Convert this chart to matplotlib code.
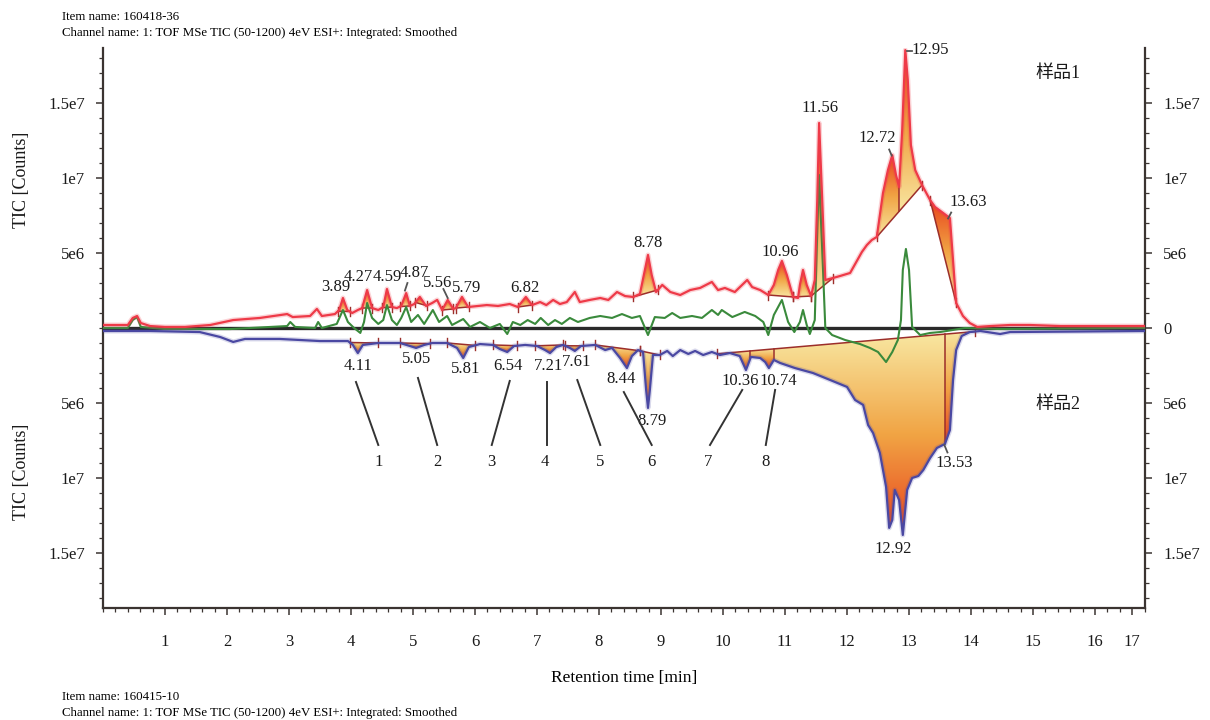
import numpy as np
import matplotlib
matplotlib.use('Agg')
import matplotlib.pyplot as plt
from matplotlib.colors import LinearSegmentedColormap
from matplotlib.patches import Polygon
from matplotlib.ticker import MultipleLocator

# ---- data: retention time [min] and TIC [1e6 counts] ----
# sample 1 (upper trace, red)
s1_time = [0.00, 0.40, 0.48, 0.55, 0.61, 0.76, 1.00, 1.32, 1.73, 2.10, 2.53, 2.97, 3.06,
           3.34, 3.45, 3.53, 3.74, 3.81, 3.87, 3.94, 4.02, 4.11, 4.18, 4.26, 4.34, 4.44,
           4.52, 4.58, 4.66, 4.74, 4.81, 4.89, 4.95, 5.02, 5.11, 5.21, 5.31, 5.39, 5.47,
           5.56, 5.65, 5.69, 5.79, 5.89, 6.05, 6.19, 6.37, 6.56, 6.69, 6.82, 6.92, 7.05,
           7.15, 7.26, 7.37, 7.48, 7.61, 7.69, 7.85, 8.02, 8.15, 8.29, 8.42, 8.55, 8.66,
           8.74, 8.79, 8.85, 8.92, 9.02, 9.15, 9.31, 9.47, 9.63, 9.82, 9.92, 10.03, 10.19,
           10.39, 10.47, 10.60, 10.73, 10.82, 10.89, 10.95, 11.03, 11.13, 11.21, 11.24,
           11.29, 11.35, 11.42, 11.48, 11.52, 11.55, 11.60, 11.65, 11.77, 11.89, 12.05,
           12.15, 12.24, 12.32, 12.40, 12.48, 12.53, 12.58, 12.66, 12.73, 12.79, 12.84,
           12.89, 12.94, 12.98, 13.03, 13.10, 13.21, 13.34, 13.42, 13.53, 13.66, 13.71,
           13.76, 13.87, 13.98, 14.10, 14.31, 14.63, 14.95, 15.44, 16.08, 16.81]
s1_tic = [0.20, 0.20, 0.67, 0.80, 0.33, 0.13, 0.07, 0.07, 0.20, 0.53, 0.67, 0.93, 0.73,
          0.80, 1.27, 0.80, 0.93, 1.20, 2.00, 1.20, 1.00, 1.20, 1.33, 2.53, 1.33, 1.20,
          1.40, 2.60, 1.40, 1.33, 1.47, 2.33, 1.47, 1.60, 2.07, 1.47, 1.67, 1.87, 1.20,
          1.87, 1.27, 1.33, 2.07, 1.40, 1.47, 1.53, 1.47, 1.60, 1.40, 2.07, 1.53, 1.73,
          1.53, 1.87, 1.60, 1.73, 2.40, 1.73, 1.87, 2.00, 1.87, 2.40, 2.13, 2.07, 2.27,
          3.87, 4.87, 3.53, 2.40, 2.87, 2.40, 2.20, 2.53, 2.67, 3.07, 2.53, 2.67, 2.40,
          3.20, 2.73, 2.53, 2.20, 2.87, 3.87, 4.47, 3.53, 2.07, 2.00, 2.87,
          3.87, 2.87, 2.13, 3.20, 8.53, 13.67, 8.53, 3.20, 3.33, 3.47, 3.67,
          4.40, 5.07, 5.53, 5.87, 6.07, 7.53, 9.00, 10.53, 11.53, 10.20, 9.40,
          13.20, 18.53, 16.53, 12.20, 10.53, 9.53, 8.53, 8.07, 7.73, 7.33, 4.53,
          1.67, 0.80, 0.33, 0.07, 0.13, 0.20, 0.20, 0.13, 0.13, 0.13]

# difference trace (green)
diff_time = [0.00, 0.40, 0.48, 0.55, 0.61, 1.00, 2.05, 2.97, 3.02, 3.10, 3.42, 3.47, 3.53,
             3.77, 3.87, 3.95, 4.05, 4.15, 4.21, 4.26, 4.34, 4.44, 4.52, 4.58, 4.66, 4.74,
             4.81, 4.89, 4.97, 5.08, 5.18, 5.32, 5.42, 5.55, 5.63, 5.81, 5.92, 6.08, 6.24,
             6.40, 6.52, 6.61, 6.73, 6.85, 6.97, 7.06, 7.18, 7.29, 7.40, 7.53, 7.66, 7.85,
             8.02, 8.21, 8.37, 8.53, 8.66, 8.79, 8.90, 9.06, 9.18, 9.31, 9.50, 9.66, 9.82,
             9.92, 9.98, 10.15, 10.35, 10.52, 10.65, 10.73, 10.82, 10.95, 11.05, 11.15,
             11.24, 11.29, 11.35, 11.40, 11.48, 11.52, 11.55, 11.60, 11.65, 11.76, 11.97,
             12.21, 12.37, 12.50, 12.63, 12.73, 12.82, 12.87, 12.90, 12.95, 13.00, 13.05,
             13.18, 13.34, 13.50, 13.71, 13.90, 14.47, 16.81]
diff_tic = [0.00, 0.00, 0.53, 0.73, 0.07, -0.07, -0.07, 0.13, 0.40, 0.07, 0.00, 0.40, 0.00,
            0.27, 1.20, 0.40, 0.00, -0.33, 0.40, 1.67, 0.67, 0.27, 0.53, 1.53, 0.53, 0.20,
            0.67, 1.40, 0.40, 0.87, 0.27, 1.20, 0.40, 0.80, 0.20, 0.60, 0.07, 0.40, 0.00,
            0.27, -0.40, 0.40, 0.20, 0.53, 0.27, 0.67, 0.20, 0.53, 0.27, 0.67, 0.40, 0.67,
            0.80, 0.67, 0.93, 0.67, 0.80, -0.47, 0.73, 0.67, 1.00, 0.67, 0.80, 0.67, 1.20,
            0.87, 1.20, 0.73, 1.07, 0.80, 0.40, -0.47, 0.87, 1.87, 0.40, -0.27,
            0.40, 1.20, 0.20, -0.40, 0.53, 6.53, 10.20, 5.20, 0.00, -0.47, -0.80,
            -1.07, -1.33, -1.60, -2.27, -1.60, -0.80, 0.53, 3.87, 5.27, 3.87, 0.07,
            -0.47, -0.33, -0.27, -0.13, 0.00, -0.07, 0.00]

# sample 2 (lower trace, blue, drawn downwards)
s2_time = [0.00, 0.76, 1.56, 1.89, 2.10, 2.29, 2.85, 3.50, 3.95, 4.03, 4.11, 4.19, 4.44,
           4.79, 4.95, 5.05, 5.18, 5.31, 5.55, 5.71, 5.81, 5.90, 6.08, 6.29, 6.40, 6.52,
           6.63, 6.81, 7.00, 7.13, 7.21, 7.31, 7.42, 7.53, 7.61, 7.71, 7.94, 8.10, 8.21,
           8.34, 8.45, 8.53, 8.63, 8.71, 8.76, 8.79, 8.82, 8.87, 8.98, 9.10, 9.19, 9.31,
           9.44, 9.55, 9.68, 9.82, 9.95, 10.11, 10.27, 10.37, 10.45, 10.60, 10.68, 10.74,
           10.82, 10.92, 11.16, 11.45, 11.73, 12.00, 12.13, 12.26, 12.34, 12.42, 12.53,
           12.63, 12.68, 12.73, 12.77, 12.84, 12.90, 12.97, 13.05, 13.15, 13.23, 13.34,
           13.45, 13.58, 13.66, 13.71, 13.76, 13.85, 13.98, 14.15, 14.47, 14.63, 16.81]
s2_tic = [-0.20, -0.20, -0.27, -0.60, -0.93, -0.73, -0.73, -0.87, -0.87, -1.13, -1.67, -1.13,
          -1.00, -1.00, -1.20, -1.33, -1.13, -1.00, -1.00, -1.33, -2.00, -1.27, -1.07, -1.13,
          -1.40, -1.60, -1.20, -1.13, -1.20, -1.47, -1.67, -1.27, -1.13, -1.33, -1.53, -1.20,
          -1.13, -1.47, -1.33, -2.00, -2.67, -1.87, -1.47, -1.60, -4.13, -5.33, -4.13, -1.80,
          -1.80, -1.53, -1.87, -1.47, -1.73, -1.53, -1.80, -1.60, -1.80, -1.67, -1.87, -2.80,
          -1.93, -2.00, -2.27, -2.67, -2.13, -2.33, -2.67, -3.00, -3.47, -3.93, -4.80, -5.13,
          -6.47, -7.00, -8.33, -10.60, -13.33, -12.80, -10.80, -11.47, -13.80, -10.80, -10.00,
          -9.87, -9.47, -8.67, -8.00, -7.73, -6.80, -3.47, -1.47, -0.53, -0.27, -0.20, -0.40,
          -0.27, -0.20]

# integration windows (boundaries in min); one straight baseline per window
s1_windows = [[3.79, 3.98], [4.18, 4.34], [4.50, 4.66], [4.79, 4.95], [5.04, 5.22],
              [5.47, 5.65], [5.69, 5.90], [6.69, 6.92], [8.55, 8.95], [10.73, 11.13],
              [11.13, 11.42], [11.42, 11.77], [12.48, 12.84, 13.21], [13.34, 13.76]]
s2_windows = [[3.98, 4.44], [4.79, 5.27], [5.55, 6.00], [6.29, 6.68], [6.97, 7.42],
              [7.45, 7.74], [7.94, 8.66], [8.66, 8.98], [9.90, 10.44, 10.82, 13.58, 14.06]]

s1_labels = ['3.89', '4.27', '4.59', '4.87', '5.56', '5.79', '6.82', '8.78', '10.96',
             '11.56', '12.72', '12.95', '13.63']
s2_labels = ['4.11', '5.05', '5.81', '6.54', '7.21', '7.61', '8.44', '8.79', '10.36',
             '10.74', '12.92', '13.53']
compound_ids = ['1', '2', '3', '4', '5', '6', '7', '8']

x_ticks = list(range(1, 18))
y_tick_vals = [15, 10, 5, 0, -5, -10, -15]
y_tick_text = ['1.5e7', '1e7', '5e6', '0', '5e6', '1e7', '1.5e7']

# ---- layout (text positions in data units) ----
s1_label_xy = [(3.76, 2.73), (4.11, 3.40), (4.58, 3.40), (5.02, 3.67), (5.40, 3.00),
               (5.87, 2.67), (6.81, 2.67), (8.79, 5.67), (10.92, 5.07), (11.56, 14.67),
               (12.48, 12.67), (13.34, 18.53), (13.95, 8.40)]
s2_label_xy = [(4.11, -2.53), (5.05, -2.07), (5.85, -2.73), (6.53, -2.53), (7.18, -2.53),
               (7.63, -2.27), (8.35, -3.40), (8.85, -6.20), (10.27, -3.53), (10.89, -3.53),
               (12.74, -14.73), (13.73, -9.00)]
id_xy = [(4.45, -8.93), (5.40, -8.93), (6.26, -8.93), (7.13, -8.93), (8.02, -8.93),
         (8.85, -8.93), (9.76, -8.93), (10.68, -8.93)]
id_lines = [((4.08, -3.6), (4.44, -7.8)), ((5.08, -3.33), (5.39, -7.8)),
            ((6.56, -3.53), (6.27, -7.8)), ((7.16, -3.6), (7.16, -7.8)),
            ((7.65, -3.47), (8.02, -7.8)), ((8.40, -4.27), (8.85, -7.8)),
            ((10.31, -4.13), (9.79, -7.8)), ((10.84, -4.13), (10.69, -7.8))]

SERIF = 'Liberation Serif'
plt.rcParams['font.family'] = [SERIF, 'Noto Sans CJK SC', 'DejaVu Sans']

RED = '#ee3a48'
GREEN = '#3a8a3c'
BLUE = '#4a48a2'
BASE = '#9c2e2a'
AXC = '#3b3431'

peak_cmap = LinearSegmentedColormap.from_list('peak', ['#f8e6a0', '#f1a444', '#e8431d'])
grad = np.linspace(0, 1, 256).reshape(-1, 1)


def fill_windows(ax, t, v, windows, upper):
    t = np.asarray(t)
    v = np.asarray(v)
    for bounds in windows:
        t0, t1 = bounds[0], bounds[-1]
        b0, b1 = np.interp(t0, t, v), np.interp(t1, t, v)

        def base(x):
            return b0 + (b1 - b0) * (x - t0) / (t1 - t0)

        for a, b in zip(bounds[:-1], bounds[1:]):
            inside = (t > a) & (t < b)
            xs = np.concatenate([[a], t[inside], [b]])
            ys = np.concatenate([[np.interp(a, t, v)], v[inside], [np.interp(b, t, v)]])
            verts = list(zip(xs, ys)) + [(b, base(b)), (a, base(a))]
            patch = Polygon(verts, closed=True, facecolor='none', edgecolor='none')
            ax.add_patch(patch)
            lo = min(ys.min(), base(a), base(b))
            hi = max(ys.max(), base(a), base(b))
            img = grad if upper else grad[::-1]
            im = ax.imshow(img, cmap=peak_cmap, extent=(a, b, lo, hi), origin='lower',
                           aspect='auto', zorder=2, interpolation='bilinear')
            im.set_clip_path(patch)
            if a != t0:
                ax.plot([a, a], [base(a), np.interp(a, t, v)], color=BASE, lw=1.1, zorder=2.5)
        ax.plot([t0, t1], [b0, b1], color=BASE, lw=1.1, zorder=2.5)
        for x in (t0, t1):
            y = np.interp(x, t, v)
            ax.plot([x, x], [y - 0.3, y + 0.3], color=BASE, lw=1.0, zorder=2.5)


fig = plt.figure(figsize=(12.1, 7.2), dpi=100)
ax = fig.add_axes([103 / 1210, 1 - 608 / 720, 1042 / 1210, 560 / 720])

fill_windows(ax, s1_time, s1_tic, s1_windows, upper=True)
fill_windows(ax, s2_time, s2_tic, s2_windows, upper=False)

ax.axhline(0, color='#2a2a2a', lw=2.4, zorder=3)
ax.plot(diff_time, diff_tic, color=GREEN, lw=1.5, zorder=4)
# soft halo under the sample traces, as in the scanned original
ax.plot(s2_time, s2_tic, color=BLUE, lw=3.6, alpha=0.2, zorder=4)
ax.plot(s2_time, s2_tic, color=BLUE, lw=1.6, zorder=4)
ax.plot(s1_time, s1_tic, color=RED, lw=3.6, alpha=0.22, zorder=5)
ax.plot(s1_time, s1_tic, color=RED, lw=1.6, zorder=5)

for txt, (x, y) in zip(s1_labels + s2_labels, s1_label_xy + s2_label_xy):
    ax.text(x, y, txt, ha='center', va='center', fontsize=12, color='#1a1a1a', zorder=6)
for txt, (x, y) in zip(compound_ids, id_xy):
    ax.text(x, y, txt, ha='center', va='center', fontsize=12, color='#1a1a1a', zorder=6)
for (p0, p1) in id_lines:
    ax.plot([p0[0], p1[0]], [p0[1], p1[1]], color='#333333', lw=1.4, zorder=6)

# short leader marks next to some labels
for (p0, p1) in [((12.97, 18.5), (13.05, 18.5)), ((12.68, 11.9), (12.72, 11.5)),
                 ((13.63, 7.3), (13.68, 7.7)), ((4.87, 2.5), (4.91, 3.0)),
                 ((5.49, 2.6), (5.56, 2.0)), ((13.57, -7.8), (13.62, -8.3))]:
    ax.plot([p0[0], p1[0]], [p0[1], p1[1]], color='#555555', lw=1.3, zorder=6)

ax.text(15.4, 17.0, '样品1', ha='center', va='center', fontsize=13, color='#1a1a1a')
ax.text(15.4, -5.13, '样品2', ha='center', va='center', fontsize=13, color='#1a1a1a')

ax.set_xlim(0, 16.806)
ax.set_ylim(-18.67, 18.67)

ax.spines['top'].set_visible(False)
for side in ('left', 'right', 'bottom'):
    ax.spines[side].set_color(AXC)
    ax.spines[side].set_linewidth(1.6)

xt_pos = x_ticks[:-1] + [16.6]
ax.set_xticks(xt_pos)
ax.set_xticklabels([str(v) for v in x_ticks])
ax.xaxis.set_minor_locator(MultipleLocator(0.2))
ax.set_xlabel('Retention time [min]', fontsize=12.5, labelpad=14)

left_vals = [v for v in y_tick_vals if v != 0]
left_text = [s for v, s in zip(y_tick_vals, y_tick_text) if v != 0]
ax.set_yticks(left_vals)
ax.set_yticklabels(left_text)
ax.yaxis.set_minor_locator(MultipleLocator(1))

ax2 = ax.twinx()
ax2.set_ylim(ax.get_ylim())
ax2.set_yticks(y_tick_vals)
ax2.set_yticklabels(y_tick_text)
ax2.yaxis.set_minor_locator(MultipleLocator(1))
for s in ax2.spines.values():
    s.set_visible(False)

for a in (ax, ax2):
    a.tick_params(which='major', direction='out', length=5, width=1.1, color=AXC,
                  labelsize=12, labelcolor='#1a1a1a')
    a.tick_params(which='minor', direction='out', length=3, width=0.9, color=AXC)
ax.tick_params(axis='x', pad=14)
ax.tick_params(axis='y', pad=8)
ax2.tick_params(axis='y', pad=8)

fig.text(22 / 1210, 1 - 180 / 720, 'TIC [Counts]', rotation=90, ha='center', va='center',
         fontsize=13, color='#1a1a1a')
fig.text(22 / 1210, 1 - 472 / 720, 'TIC [Counts]', rotation=90, ha='center', va='center',
         fontsize=13, color='#1a1a1a')

hdr = 'Channel name: 1: TOF MSe TIC (50-1200) 4eV ESI+: Integrated: Smoothed'
fig.text(62 / 1210, 1 - 17 / 720, 'Item name: 160418-36', fontsize=9.3, va='center')
fig.text(62 / 1210, 1 - 33 / 720, hdr, fontsize=9.3, va='center')
fig.text(62 / 1210, 1 - 697 / 720, 'Item name: 160415-10', fontsize=9.3, va='center')
fig.text(62 / 1210, 1 - 713 / 720, hdr, fontsize=9.3, va='center')

fig.savefig('out.png', dpi=100)
